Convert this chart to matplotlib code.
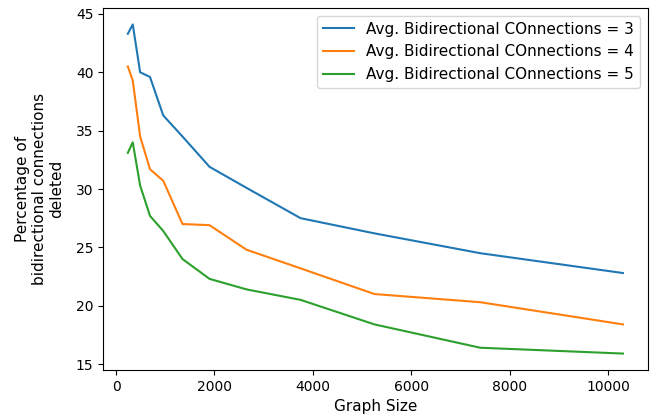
import matplotlib
matplotlib.use('Agg')
import matplotlib.pyplot as plt

# Graph sizes (shared x values)
graph_sizes = [240, 340, 490, 690, 960, 1350, 1900, 2650, 3750, 5250, 7400, 10300]

# Percentage of bidirectional connections deleted, per average connection count
deleted_3 = [43.3, 44.1, 40.0, 39.6, 36.3, 34.5, 31.9, 30.1, 27.5, 26.2, 24.5, 22.8]
deleted_4 = [40.5, 39.3, 34.5, 31.7, 30.7, 27.0, 26.9, 24.8, 23.2, 21.0, 20.3, 18.4]
deleted_5 = [33.1, 34.0, 30.3, 27.7, 26.4, 24.0, 22.3, 21.4, 20.5, 18.4, 16.4, 15.9]

series = [(deleted_3, 3), (deleted_4, 4), (deleted_5, 5)]


def main():
    fig = plt.figure(figsize=(6.65, 4.2), dpi=100)
    ax = fig.add_axes([0.155, 0.119, 0.819, 0.862])

    for values, k in series:
        ax.plot(graph_sizes, values, label=f'Avg. Bidirectional COnnections = {k}')

    ax.set_xticks([0, 2000, 4000, 6000, 8000, 10000])
    ax.set_yticks([15, 20, 25, 30, 35, 40, 45])
    ax.set_xlabel('Graph Size', fontsize=11)
    ax.set_ylabel('Percentage of\nbidirectional connections\ndeleted', fontsize=11, labelpad=8)
    ax.legend(loc='upper right', fontsize=11)

    fig.savefig('out.png', dpi=100)
    plt.close(fig)


if __name__ == "__main__":
    main()
